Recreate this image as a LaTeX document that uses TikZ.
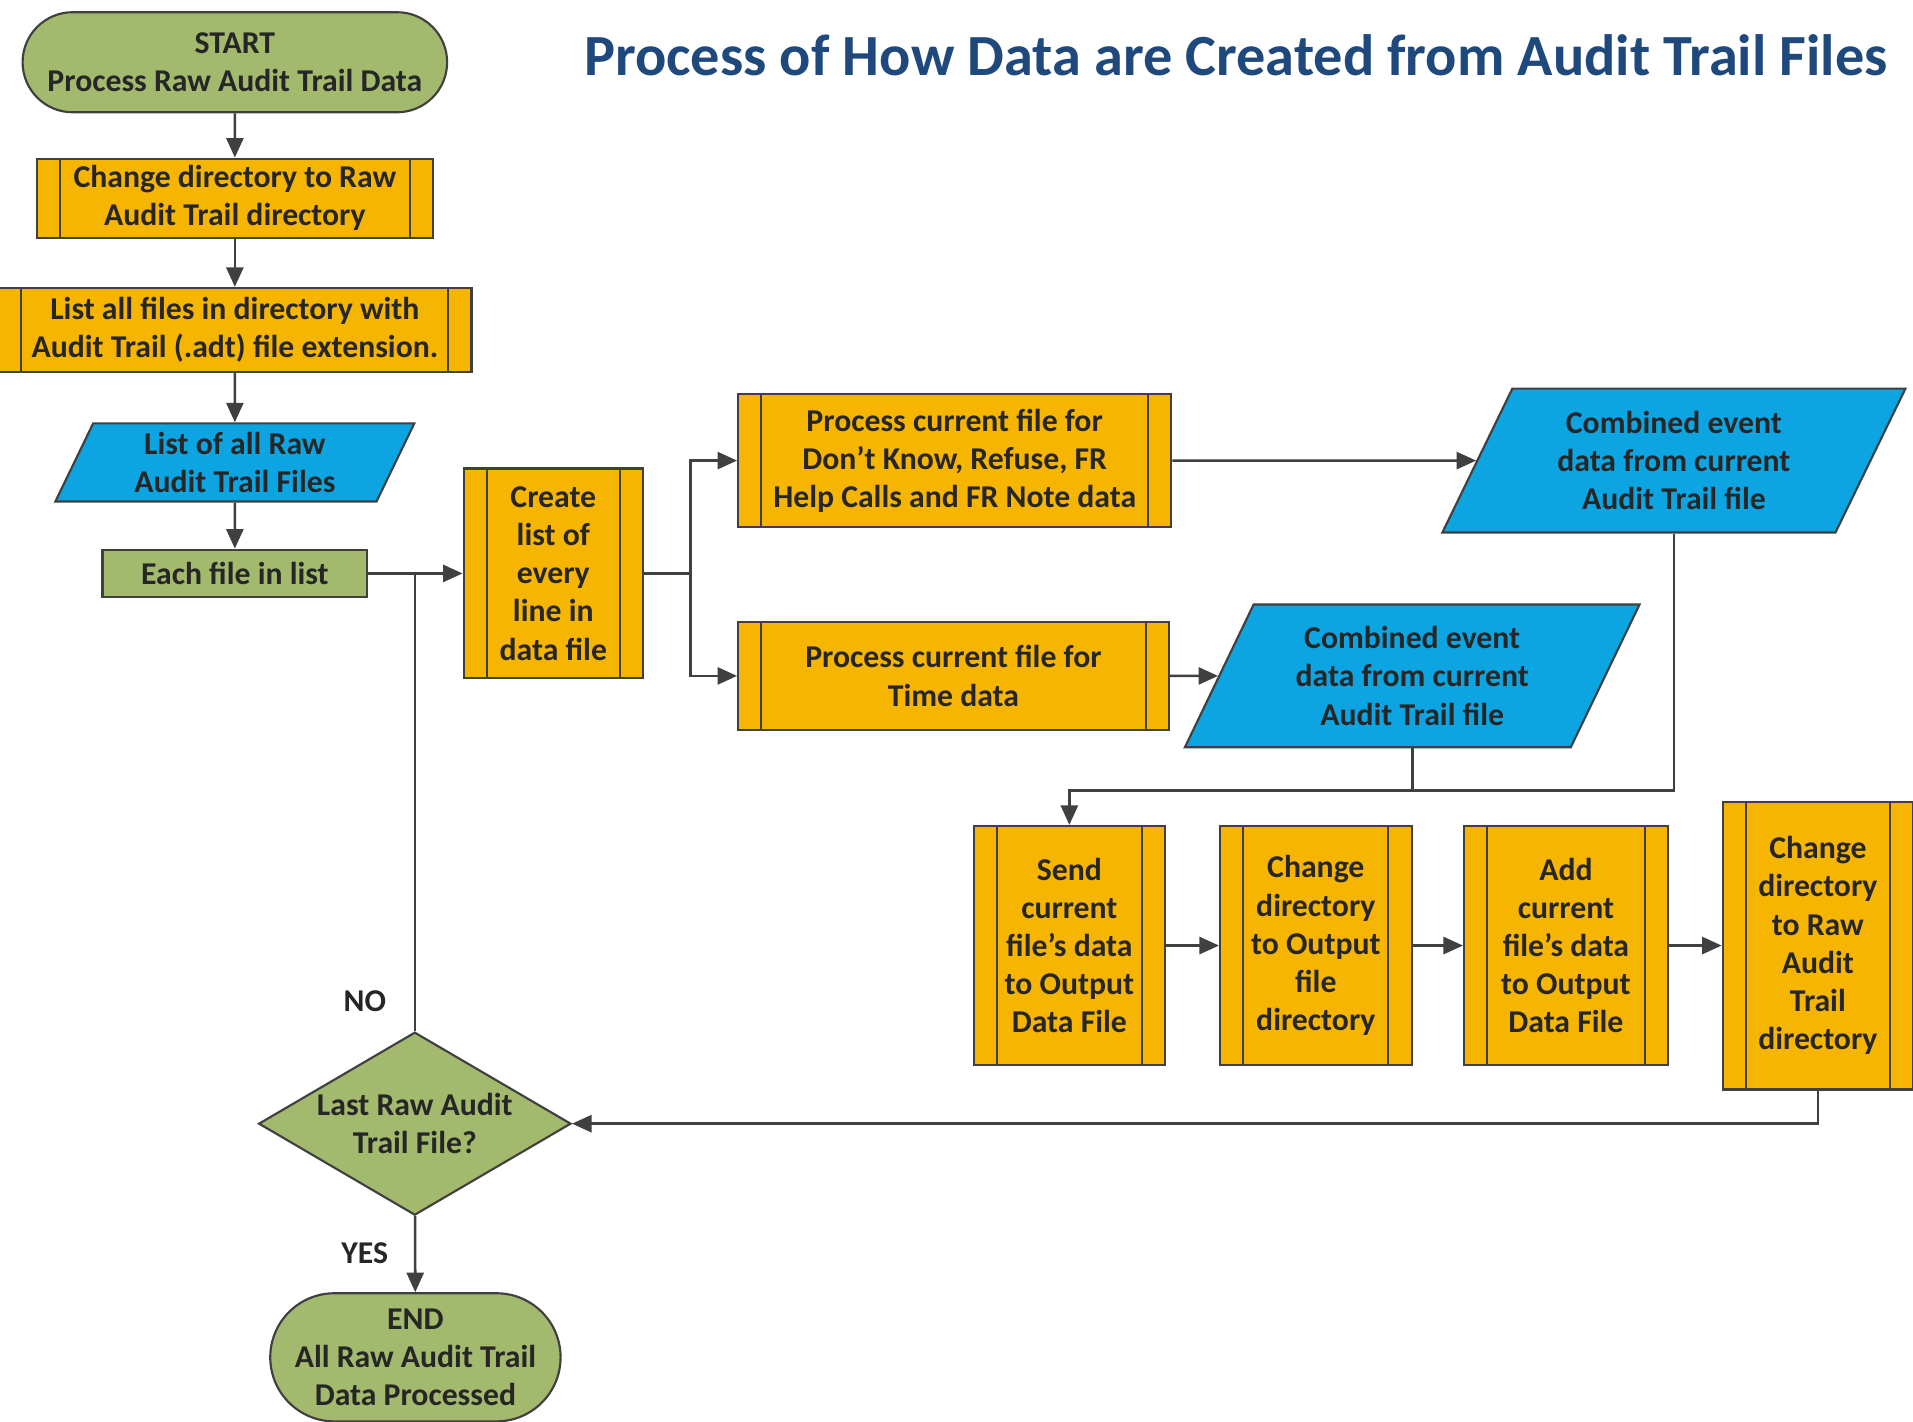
\documentclass[tikz,border=0pt]{standalone}
\usepackage{fontspec}
\setmainfont{Carlito}
\usepackage{tikz}
\usetikzlibrary{shapes.geometric,shapes.misc,arrows.meta}

\definecolor{boxgold}{RGB}{245,181,0}
\definecolor{databue}{RGB}{12,165,225}
\definecolor{termgreen}{RGB}{163,185,110}
\definecolor{linegray}{RGB}{64,64,64}
\definecolor{titleblue}{RGB}{31,73,125}

\begin{document}
\begin{tikzpicture}
[txt/.style={font=\fontsize{7.4}{8.9}\selectfont\bfseries, text=black!85, align=center, inner sep=1pt},
proc/.style={txt, rectangle, draw=linegray, line width=0.5pt, fill=boxgold,
  path picture={\draw[linegray, line width=0.5pt] ([xshift=0.19cm]path picture bounding box.north west) -- ([xshift=0.19cm]path picture bounding box.south west);
  \draw[linegray, line width=0.5pt] ([xshift=-0.19cm]path picture bounding box.north east) -- ([xshift=-0.19cm]path picture bounding box.south east);}},
data/.style={txt, trapezium, trapezium left angle=64, trapezium right angle=116, trapezium stretches=true, draw=linegray, line width=0.5pt, fill=databue},
terminal/.style={txt, rounded rectangle, draw=linegray, line width=0.5pt, fill=termgreen},
decision/.style={txt, diamond, aspect=1.7, draw=linegray, line width=0.5pt, fill=termgreen, inner sep=0pt},
loopbox/.style={txt, rectangle, draw=linegray, line width=0.5pt, fill=termgreen},
arr/.style={linegray, line width=0.6pt, -{Triangle[length=1.6mm,width=1.4mm]}},
link/.style={linegray, line width=0.6pt}]
\useasboundingbox (0,0) rectangle (15.68,-11.65);
\fill[white] (0,0) rectangle (15.68,-11.65);
\node[font=\fontsize{13.6}{16}\selectfont\bfseries, text=titleblue] (title) at (10.13,-0.45) {Process of How Data are Created from Audit Trail Files};
% left column
\node[terminal, minimum width=3.55cm, minimum height=0.82cm] (start) at (1.925,-0.51) {START\\Process Raw Audit Trail Data};
\node[proc, minimum width=3.25cm, minimum height=0.65cm] (chdir) at (1.925,-1.625) {Change directory to Raw\\Audit Trail directory};
\node[proc, minimum width=3.88cm, minimum height=0.69cm] (listall) at (1.925,-2.705) {List all files in directory with\\Audit Trail (.adt) file extension.};
\node[data, trapezium left angle=68, trapezium right angle=112, minimum width=2.95cm, minimum height=0.64cm] (rawlist) at (1.925,-3.79) {List of all Raw\\Audit Trail Files};
\node[loopbox, minimum width=2.17cm, minimum height=0.39cm] (each) at (1.925,-4.70) {Each file in list};
% processing
\node[proc, minimum width=1.47cm, minimum height=1.72cm] (create) at (4.535,-4.70) {Create\\list of\\every\\line in\\data file};
\node[proc, minimum width=3.55cm, minimum height=1.09cm] (dkproc) at (7.825,-3.775) {Process current file for\\Don’t Know, Refuse, FR\\Help Calls and FR Note data};
\node[proc, minimum width=3.53cm, minimum height=0.88cm] (timeproc) at (7.815,-5.54) {Process current file for\\Time data};
\node[data, minimum width=3.82cm, minimum height=1.18cm] (dkdata) at (13.72,-3.775) {Combined event\\data from current\\Audit Trail file};
\node[data, minimum width=3.75cm, minimum height=1.17cm] (timedata) at (11.575,-5.54) {Combined event\\data from current\\Audit Trail file};
% output row
\node[proc, minimum width=1.57cm, minimum height=1.96cm] (send) at (8.765,-7.75) {Send\\current\\file’s data\\to Output\\Data File};
\node[proc, minimum width=1.57cm, minimum height=1.96cm] (chout) at (10.785,-7.75) {Change\\directory\\to Output\\file\\directory};
\node[proc, minimum width=1.67cm, minimum height=1.96cm] (add) at (12.835,-7.75) {Add\\current\\file’s data\\to Output\\Data File};
\node[proc, minimum width=1.56cm, minimum height=2.36cm] (chraw) at (14.90,-7.75) {Change\\directory\\to Raw\\Audit\\Trail\\directory};
% decision and end
\node[decision, minimum width=2.56cm, minimum height=1.50cm] (last) at (3.40,-9.21) {Last Raw Audit\\Trail File?};
\node[terminal, minimum width=2.45cm, minimum height=1.05cm] (end) at (3.405,-11.125) {END\\All Raw Audit Trail\\Data Processed};
\node[txt] (no) at (2.99,-8.21) {NO};
\node[txt] (yes) at (2.99,-10.27) {YES};
% connectors
\draw[arr] (start) -- (chdir);
\draw[arr] (chdir) -- (listall);
\draw[arr] (listall) -- (rawlist);
\draw[arr] (rawlist) -- (each);
\draw[arr] (each) -- (create);
\coordinate (join) at (3.40,-4.70);
\draw[link] (last.north) -- (join);
\coordinate (split) at (5.66,-4.70);
\draw[link] (create.east) -- (split);
\draw[arr] (split) |- (dkproc.west);
\draw[arr] (split) |- (timeproc.west);
\draw[arr] (dkproc) -- (dkdata);
\draw[arr] (timeproc) -- (timedata);
\coordinate (bend) at (8.765,-6.48);
\draw[arr] (dkdata.south) |- (bend) -- (send.north);
\draw[link] (timedata.south) -- (timedata.south |- bend);
\draw[arr] (send) -- (chout);
\draw[arr] (chout) -- (add);
\draw[arr] (add) -- (chraw);
\draw[arr] (chraw.south) |- (last.east);
\draw[arr] (last) -- (end);
\end{tikzpicture}
\end{document}
